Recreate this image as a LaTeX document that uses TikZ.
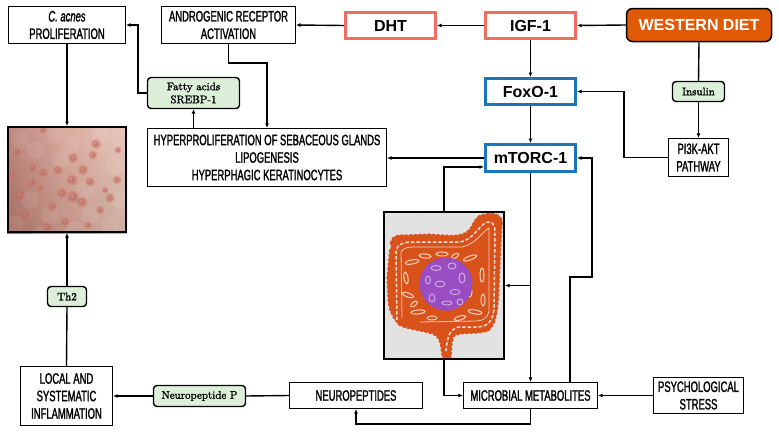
\documentclass[tikz,border=0pt]{standalone}
\usepackage{fontspec}
\newfontfamily\condf[FakeStretch=0.63,FakeBold=1.5]{Liberation Sans}
\newfontfamily\boldf{Liberation Sans}
\newfontfamily\greenf[FakeBold=1.4]{Latin Modern Roman}
\usetikzlibrary{arrows.meta,calc,decorations.pathmorphing}
\definecolor{salmonc}{HTML}{F36C64}
\definecolor{bluec}{HTML}{1B75BC}
\definecolor{wdor}{HTML}{E05A06}
\definecolor{lgreen}{HTML}{DCEFD8}
\definecolor{gutbg}{HTML}{E2E2E2}
\definecolor{gutor}{HTML}{D8521A}
\definecolor{purp}{HTML}{9A4DC2}
\definecolor{skinL}{HTML}{B87A70}
\definecolor{skinM}{HTML}{D8A496}
\definecolor{skinR}{HTML}{E6C4B6}
\definecolor{bumpc}{HTML}{C4675A}
\tikzset{
  plainbox/.style={draw=black, line width=1.1pt, fill=white, align=center, inner sep=0pt,
    font=\condf\fontsize{15}{17.5}\selectfont},
  redbox/.style={draw=salmonc, line width=3pt, fill=white, inner sep=0pt,
    font=\boldf\bfseries\fontsize{16}{18}\selectfont},
  bluebox/.style={draw=bluec, line width=3pt, fill=white, inner sep=0pt,
    font=\boldf\bfseries\fontsize{16}{18}\selectfont},
  greenbox/.style={draw=black, line width=1.4pt, fill=lgreen, rounded corners=3.5pt, align=center,
    inner sep=0pt, font=\greenf\fontsize{11}{13}\selectfont},
  imgbox/.style={draw=black, line width=2pt, inner sep=0pt},
  conn/.style={line width=1.4pt, -{Latex[length=4.5pt,width=4pt]}},
  plainline/.style={line width=1.4pt},
}
\begin{document}
\begin{tikzpicture}[x=1pt,y=-1pt]
\useasboundingbox (0,0) rectangle (779,431);
\fill[white] (0,0) rectangle (779,431);

% ---------- skin picture ----------
\shade[left color=skinL, right color=skinR, middle color=skinM] (7,126) rectangle (127,233);
\shade[top color=white, bottom color=black, opacity=0.10] (7,126) rectangle (127,233);
\begin{scope}
\clip (7,126) rectangle (127,233);
\foreach \x/\y in {20/140, 35/150, 55/135, 70/145, 100/135, 115/165, 30/200, 50/215, 90/215, 110/225, 15/225, 60/160, 85/190, 120/200, 40/235, 75/230}
  {\fill[white, opacity=0.08] (\x,\y) circle (9);}
\foreach \x/\y/\r in {96/144/3.2, 73/158/3.2, 83/170/3.4, 58/170/3, 43/173/2.8, 33/168/2.5,
  72/180/3.5, 90/182/3, 117/180/2.8, 20/195/3.2, 62/193/3.2, 73/197/3.8, 82/202/3.5,
  110/198/3, 52/207/2.8, 47/227/3, 17/152/2.3, 43/130/2.3, 93/155/2.8, 32/183/2.5,
  40/188/2.3, 100/210/2.7, 118/150/2.3, 25/215/2.5, 65/222/2.8, 88/225/2.3, 105/190/2.2, 12/175/2.2}
  {\fill[bumpc, opacity=0.3] (\x,\y) circle (\r*1.6);
   \fill[bumpc, opacity=0.55] (\x,\y) circle (\r);
   \fill[white, opacity=0.25] (\x-0.7,\y-0.8) circle (\r*0.35);}
\end{scope}
\node[imgbox, minimum width=118pt, minimum height=105pt] (skin) at (67,179.5) {};

% ---------- gut picture ----------
\fill[gutbg] (383,211) rectangle (505,360);
\begin{scope}
\clip (384,212) rectangle (504,359);
\foreach \x/\y in {392/220, 410/262, 470/300, 430/350, 488/348, 395/340, 500/270, 455/225, 420/215, 470/345, 390/290, 412/222}
  {\fill[gray!45] (\x,\y) circle (0.7);}
\fill[gutor, decorate, decoration={bumps, segment length=9pt, amplitude=1.6pt}]
  (391,245) .. controls (392,238) and (396,236) .. (405,236)
  -- (428,235) .. controls (445,236) and (458,238) .. (466,233)
  .. controls (474,228) and (474,218) .. (482,216)
  .. controls (490,213) and (500,214) .. (501,222)
  -- (500,245) -- (498,288) .. controls (497,310) and (496,322) .. (488,330)
  .. controls (475,334) and (462,331) .. (455,335)
  .. controls (450,340) and (451,350) .. (450,357) -- (443,357)
  .. controls (442,348) and (441,340) .. (437,336)
  .. controls (430,330) and (412,330) .. (401,325)
  .. controls (393,318) and (390,310) .. (389,300)
  -- (388,278) -- cycle;
\draw[white!80!gutor, line width=1.5pt, dash pattern=on 3.5pt off 2pt]
  (397,320) -- (396,250) .. controls (398,244) and (404,242) .. (412,242)
  -- (460,242) .. controls (472,240) and (478,228) .. (485,223)
  .. controls (492,220) and (495,224) .. (495,232) -- (494,310)
  .. controls (492,322) and (488,326) .. (478,327) -- (458,327)
  .. controls (450,330) and (447,336) .. (446,352);
\draw[white!70!gutor, line width=0.8pt]
  (402,318) -- (401,252) .. controls (403,248) and (407,247) .. (414,247) -- (462,247)
  .. controls (476,244) and (482,232) .. (489,228) -- (489,312) .. controls (487,318) and (483,321) .. (476,321) -- (420,322);
\foreach \x/\y/\a/\b/\ang in {412/262/7/2/10, 425/256/6/2/-5, 470/258/7/2/20, 482/275/2/7/0, 408/295/6/2/-20,
  418/312/7/2/5, 475/312/7/2/-10, 460/318/6/2/15, 432/318/5/2/0, 406/278/2/6/10, 483/300/2/6/0, 442/254/6/2/0,
  455/256/4/2/30, 414/304/4/2/40, 470/292/2/5/0}
  {\draw[white!75!gutor, line width=1pt, rotate around={\ang:(\x,\y)}] (\x,\y) ellipse (\a pt and \b pt);}
\end{scope}
\fill[purp] (446,284) circle (26.5);
\begin{scope}
\clip (446,284) circle (26);
\foreach \x/\y/\a/\b in {436/268/5/2.5, 452/266/4/3, 462/278/3/5, 440/284/5/3, 455/292/5/2.5,
  432/298/3/4, 447/303/5/2, 460/302/3/3, 428/280/2.5/4}
  {\draw[purp!45!white, line width=0.9pt] (\x,\y) ellipse (\a pt and \b pt);}
\end{scope}
\node[imgbox, minimum width=120pt, minimum height=147pt] (gut) at (444,285.5) {};

% ---------- nodes ----------
\node[plainbox, minimum width=117pt, minimum height=37pt] (cacnes) at (67,25) {\textit{C. acnes}\\PROLIFERATION};
\node[plainbox, minimum width=134pt, minimum height=37pt] (andro) at (228.5,25) {ANDROGENIC RECEPTOR\\ACTIVATION};
\node[redbox, minimum width=90pt, minimum height=26pt] (dht) at (390.5,25.5) {DHT};
\node[redbox, minimum width=90pt, minimum height=26pt] (igf) at (530.5,25.5) {IGF-1};
\node[draw=black, line width=1.5pt, fill=wdor, rounded corners=6pt, text=white, inner sep=0pt,
  font=\boldf\bfseries\fontsize{16}{18}\selectfont, minimum width=145pt, minimum height=33pt] (wd) at (699,25) {WESTERN DIET};
\node[bluebox, minimum width=90pt, minimum height=26pt] (foxo) at (530.5,91.5) {FoxO-1};
\node[greenbox, minimum width=52pt, minimum height=20pt] (ins) at (698.5,91.5) {Insulin};
\node[plainbox, minimum width=60pt, minimum height=38pt] (pi3k) at (698.5,157.5) {PI3K-AKT\\PATHWAY};
\node[bluebox, minimum width=90pt, minimum height=27pt] (mtorc) at (530.5,158) {mTORC-1};
\node[greenbox, minimum width=92pt, minimum height=31pt] (fatty) at (193.5,93) {Fatty acids\\SREBP-1};
\node[plainbox, minimum width=239pt, minimum height=58pt] (hyper) at (267,157.5) {HYPERPROLIFERATION OF SEBACEOUS GLANDS\\LIPOGENESIS\\HYPERPHAGIC KERATINOCYTES};
\node[greenbox, minimum width=39pt, minimum height=20pt] (th2) at (67,296.5) {Th2};
\node[plainbox, minimum width=92pt, minimum height=59pt] (local) at (66.5,396) {LOCAL AND\\SYSTEMATIC\\INFLAMMATION};
\node[greenbox, minimum width=92pt, minimum height=21pt] (np) at (199.5,396) {Neuropeptide P};
\node[plainbox, minimum width=133pt, minimum height=26pt] (neuro) at (356,395.5) {NEUROPEPTIDES};
\node[plainbox, minimum width=134pt, minimum height=26pt] (micro) at (530.5,395.5) {MICROBIAL METABOLITES};
\node[plainbox, minimum width=90pt, minimum height=36pt] (psych) at (698.5,395.5) {PSYCHOLOGICAL\\STRESS};

% ---------- connectors ----------
\draw[conn] (wd.west) -- (igf.east);
\draw[conn] (igf.west) -- (dht.east);
\draw[conn] (dht.west) -- (andro.east);
\draw[conn] (igf.south) -- (foxo.north);
\draw[conn] (foxo.south) -- (mtorc.north);
\draw[plainline] (wd.south) -- (ins.north);
\draw[conn] (ins.south) -- (pi3k.north);
\draw[conn] (pi3k.west) -- ++(-44,0) |- (foxo.east);
\draw[conn] (mtorc.west) -- (hyper.east |- mtorc.west);
\draw[conn] (andro.south) -- ++(0,19) -| (hyper.north);
\draw[conn] (hyper.north -| fatty.south) -- (fatty.south);
\draw[conn] (fatty.west) -- ++(-9,0) |- (cacnes.east);
\draw[conn] (cacnes.south) -- (skin.north);
\draw[plainline] (local.north) -- (th2.south);
\draw[conn] (th2.north) -- (skin.south);
\draw[plainline] (neuro.west) -- (np.east);
\draw[conn] (np.west) -- (local.east);
\draw[conn] (micro.south) -- ++(0,15) -| (neuro.south);
\draw[conn] (mtorc.south) -- (micro.north);
\draw[conn] (mtorc.south |- gut.east) -- (gut.east);
\draw[conn] (gut.south) |- (micro.west);
\draw[conn] (gut.north) |- ($(mtorc.west)+(0,9)$);
\draw[conn] ($(micro.north)+(39.5,0)$) -- ++(0,-105) -- ++(22,0) |- (mtorc.east);
\draw[conn] (psych.west) -- (micro.east);
\end{tikzpicture}
\end{document}
